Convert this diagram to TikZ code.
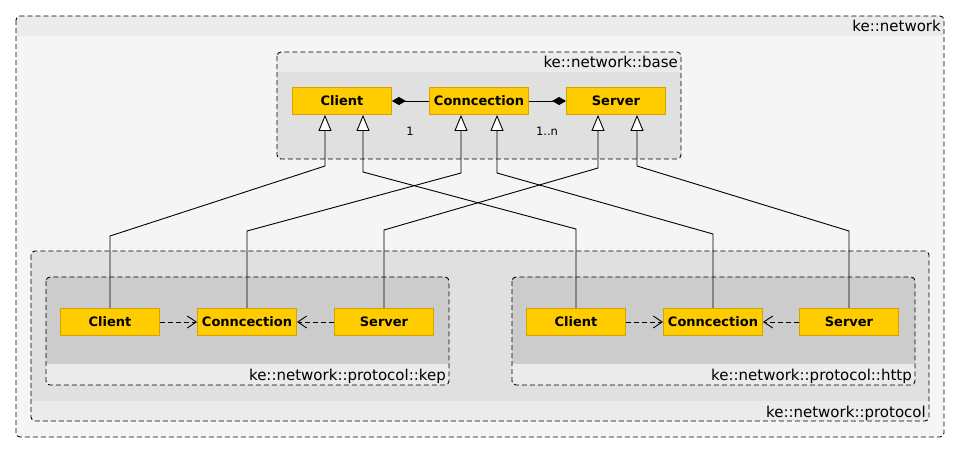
\documentclass[tikz,border=0pt]{standalone}
\usepackage{fontspec}
\setmainfont{DejaVu Sans}
\usetikzlibrary{arrows.meta}
\definecolor{gold}{HTML}{FFCC00}
\definecolor{goldedge}{HTML}{D4A300}
\definecolor{bandgray}{HTML}{EBEBEB}
\definecolor{netgray}{HTML}{F5F5F5}
\definecolor{midgray}{HTML}{E0E0E0}
\definecolor{deepgray}{HTML}{CCCCCC}
\begin{document}
\begin{tikzpicture}[x=1pt,y=-1pt,
 cls/.style={rectangle, fill=gold, draw=goldedge, line width=0.8pt, minimum width=99pt, minimum height=27pt, inner sep=0pt, font=\bfseries\fontsize{13}{15}\selectfont},
 pkgborder/.style={draw=black, line width=0.9pt, dash pattern=on 5pt off 3pt, rounded corners=4pt},
 pkglabel/.style={anchor=base east, font=\fontsize{15}{17}\selectfont, inner sep=0pt},
 inh/.style={draw=black, line width=0.9pt, -{Triangle[length=16pt,width=13pt,fill=white]}},
 dep/.style={draw=black, line width=0.9pt, dash pattern=on 5pt off 3pt, -{Straight Barb[length=9pt,width=12pt]}},
 comp/.style={draw=black, line width=0.9pt, {Diamond[length=14pt,width=8pt]}-},
 mult/.style={font=\fontsize{11.5}{13}\selectfont, inner sep=0pt}
]
\useasboundingbox (0,0) rectangle (960,453);
\fill[white] (0,0) rectangle (960,453);
% ke::network
\begin{scope}
\clip[rounded corners=4pt] (16,16) rectangle (944,437);
\fill[netgray] (16,16) rectangle (944,437);
\fill[bandgray] (16,16) rectangle (944,36);
\end{scope}
\draw[pkgborder] (16,16) rectangle (944,437);
\node[pkglabel] (lnet) at (941,31) {ke::network};
% ke::network::base
\begin{scope}
\clip[rounded corners=4pt] (277,52) rectangle (681,159);
\fill[midgray] (277,52) rectangle (681,159);
\fill[bandgray] (277,52) rectangle (681,72);
\end{scope}
\draw[pkgborder] (277,52) rectangle (681,159);
\node[pkglabel] (lbase) at (678,67) {ke::network::base};
% ke::network::protocol
\begin{scope}
\clip[rounded corners=4pt] (31,251) rectangle (929,421);
\fill[midgray] (31,251) rectangle (929,421);
\fill[bandgray] (31,401) rectangle (929,421);
\end{scope}
\draw[pkgborder] (31,251) rectangle (929,421);
\node[pkglabel] (lproto) at (926,417) {ke::network::protocol};
% kep
\begin{scope}
\clip[rounded corners=4pt] (46,277) rectangle (449,385);
\fill[deepgray] (46,277) rectangle (449,385);
\fill[bandgray] (46,364) rectangle (449,385);
\end{scope}
\draw[pkgborder] (46,277) rectangle (449,385);
\node[pkglabel] (lkep) at (446,380) {ke::network::protocol::kep};
% http
\begin{scope}
\clip[rounded corners=4pt] (512,277) rectangle (915,385);
\fill[deepgray] (512,277) rectangle (915,385);
\fill[bandgray] (512,364) rectangle (915,385);
\end{scope}
\draw[pkgborder] (512,277) rectangle (915,385);
\node[pkglabel] (lhttp) at (912,380) {ke::network::protocol::http};
% classes
\node[cls] (bClient) at (342,101) {Client};
\node[cls] (bConn) at (479,101) {Conncection};
\node[cls] (bServer) at (616,101) {Server};
\node[cls] (kClient) at (110,322) {Client};
\node[cls] (kConn) at (247,322) {Conncection};
\node[cls] (kServer) at (384,322) {Server};
\node[cls] (hClient) at (576,322) {Client};
\node[cls] (hConn) at (713,322) {Conncection};
\node[cls] (hServer) at (849,322) {Server};
% composition
\draw[comp] (bClient.east) -- (bConn.west);
\draw[comp] (bServer.west) -- (bConn.east);
\node[mult] (m1) at (410,131) {1};
\node[mult] (m2) at (547,131) {1..n};
% dependencies
\draw[dep] (kClient.east) -- (kConn.west);
\draw[dep] (kServer.west) -- (kConn.east);
\draw[dep] (hClient.east) -- (hConn.west);
\draw[dep] (hServer.west) -- (hConn.east);
% inheritance
\draw[inh] (kClient.north) -- (110,236) -- (325,166) -- ([xshift=-17pt]bClient.south);
\draw[inh] (hClient.north) -- (576,229) -- (363,172) -- ([xshift=21pt]bClient.south);
\draw[inh] (kConn.north) -- (247,231) -- (461,173) -- ([xshift=-18pt]bConn.south);
\draw[inh] (hConn.north) -- (713,234) -- (497,173) -- ([xshift=18pt]bConn.south);
\draw[inh] (kServer.north) -- (384,230) -- (598,168) -- ([xshift=-18pt]bServer.south);
\draw[inh] (hServer.north) -- (849,231) -- (637,166) -- ([xshift=21pt]bServer.south);
\end{tikzpicture}
\end{document}
